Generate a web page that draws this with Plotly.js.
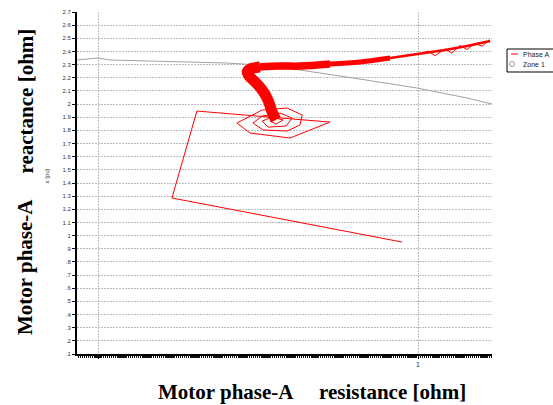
<!DOCTYPE html>
<html>
<head>
<meta charset="utf-8">
<script src="https://cdn.plot.ly/plotly-3.0.1.min.js"></script>
<style>html,body{margin:0;padding:0;background:#fff;}#chart{width:553px;height:405px;}</style>
</head>
<body>
<div id="chart"></div>
<script>
// Thin part of the Phase A trajectory (start, jump, spiral)
const thinR = [0.950, 0.231, 0.309, 0.725, 0.600, 0.475, 0.434, 0.513, 0.591, 0.638, 0.631, 0.591, 0.516, 0.484, 0.513, 0.569, 0.606, 0.588, 0.531, 0.513, 0.544, 0.578, 0.556, 0.538, 0.553];
const thinX = [0.951, 1.286, 1.947, 1.863, 1.742, 1.780, 1.856, 1.955, 1.970, 1.917, 1.841, 1.795, 1.803, 1.856, 1.909, 1.932, 1.894, 1.833, 1.825, 1.871, 1.901, 1.879, 1.848, 1.871, 1.886];
// Thick band (settling towards load point), split by visual thickness
const bandAR = [0.556, 0.544, 0.531, 0.513, 0.491, 0.472, 0.466, 0.475, 0.506];
const bandAX = [1.880, 1.940, 2.031, 2.107, 2.168, 2.213, 2.244, 2.267, 2.282];
const bandBR = [0.506, 0.569, 0.631, 0.725];
const bandBX = [2.282, 2.289, 2.289, 2.305];
const bandCR = [0.725, 0.819, 0.913];
const bandCX = [2.305, 2.320, 2.350];
const bandDR = [0.913, 1.006, 1.084, 1.153, 1.225];
const bandDX = [2.350, 2.381, 2.411, 2.441, 2.480];
const bandER = [0.960, 1.006, 1.031, 1.053, 1.084, 1.106, 1.131, 1.153, 1.178, 1.200, 1.225];
const bandEX = [2.372, 2.381, 2.403, 2.368, 2.419, 2.388, 2.445, 2.415, 2.460, 2.440, 2.490];
// Zone 1 boundary
const zoneR = [-0.066, 0.000, 0.0375, 0.194, 0.403, 0.506, 0.631, 0.819, 0.997, 1.153, 1.231];
const zoneX = [2.335, 2.350, 2.335, 2.327, 2.312, 2.297, 2.259, 2.190, 2.122, 2.046, 2.000];
// Tick labels
const yTickVals = [0.1,0.2,0.3,0.4,0.5,0.6,0.7,0.8,0.9,1.0,1.1,1.2,1.3,1.4,1.5,1.6,1.7,1.8,1.9,2.0,2.1,2.2,2.3,2.4,2.5,2.6,2.7];
const yTickText = [".1",".2",".3",".4",".5",".6",".7",".8",".9","1","1.1","1.2","1.3","1.4","1.5","1.6","1.7","1.8","1.9","2","2.1","2.2","2.3","2.4","2.5","2.6","2.7"];
const xTickVals = [0, 1];
const xTickText = ["", "1"];

const red = '#ff0000';
const traces = [
  {x: zoneR, y: zoneX, mode: 'lines', line: {color: '#a0a0a0', width: 1}, showlegend: false},
  {x: thinR, y: thinX, mode: 'lines', line: {color: red, width: 1}, showlegend: false},
  {x: bandAR, y: bandAX, mode: 'lines', line: {color: red, width: 11, shape: 'spline'}, showlegend: false},
  {x: bandBR, y: bandBX, mode: 'lines', line: {color: red, width: 7.5, shape: 'spline'}, showlegend: false},
  {x: bandCR, y: bandCX, mode: 'lines', line: {color: red, width: 5, shape: 'spline'}, showlegend: false},
  {x: bandDR, y: bandDX, mode: 'lines', line: {color: red, width: 2.5}, showlegend: false},
  {x: bandER, y: bandEX, mode: 'lines', line: {color: red, width: 1}, showlegend: false}
];

const P = (px) => (px - 77) / 415;
const Q = (py) => (354 - py) / 342;
const serif = 'Liberation Serif, Times New Roman, serif';

const layout = {
  width: 553, height: 405,
  margin: {l: 77, r: 61, t: 12, b: 51, pad: 0},
  paper_bgcolor: '#ffffff', plot_bgcolor: '#ffffff',
  showlegend: false,
  font: {family: 'Liberation Sans, Arial, sans-serif', size: 6, color: '#333'},
  xaxis: {
    range: [-0.0656, 1.231], tickmode: 'array', tickvals: xTickVals, ticktext: xTickText,
    showgrid: true, gridcolor: '#bdbdbd', gridwidth: 1, griddash: '2px,1px',
    zeroline: false, showline: true, linecolor: '#000', linewidth: 1.5,
    ticks: 'outside', ticklen: 3, tickcolor: '#000', tickfont: {size: 7, color: '#333'},
    minor: {dtick: 0.006, ticks: 'outside', ticklen: 2.5, tickcolor: '#111', tickwidth: 1.3, showgrid: false},
    fixedrange: true
  },
  yaxis: {
    range: [0.1, 2.7], tickmode: 'array', tickvals: yTickVals, ticktext: yTickText,
    showgrid: true, gridcolor: '#bdbdbd', gridwidth: 1, griddash: '2px,1px',
    zeroline: false, showline: true, linecolor: '#000', linewidth: 2,
    ticks: 'outside', ticklen: 3, tickcolor: '#000', tickfont: {size: 6, color: '#333'},
    fixedrange: true
  },
  shapes: [
    {type: 'rect', xref: 'paper', yref: 'paper', x0: P(507), x1: P(562), y0: Q(72), y1: Q(49), line: {color: '#000', width: 1}, fillcolor: '#fff'},
    {type: 'line', xref: 'paper', yref: 'paper', x0: P(511), x1: P(518), y0: Q(54), y1: Q(54), line: {color: red, width: 1}},
    {type: 'circle', xref: 'paper', yref: 'paper', x0: P(509.5), x1: P(514.5), y0: Q(66.5), y1: Q(61.5), line: {color: '#999', width: 1}}
  ],
  annotations: [
    {xref: 'paper', yref: 'paper', x: P(521), y: Q(54), xanchor: 'left', yanchor: 'middle', showarrow: false, text: 'Phase A', font: {size: 7, color: '#222'}},
    {xref: 'paper', yref: 'paper', x: P(521), y: Q(64), xanchor: 'left', yanchor: 'middle', showarrow: false, text: 'Zone 1', font: {size: 7, color: '#222'}},
    {xref: 'paper', yref: 'paper', x: P(25), y: Q(267), xanchor: 'center', yanchor: 'middle', showarrow: false, textangle: -90, text: '<b>Motor phase-A</b>', font: {family: serif, size: 21, color: '#000'}},
    {xref: 'paper', yref: 'paper', x: P(25), y: Q(100.5), xanchor: 'center', yanchor: 'middle', showarrow: false, textangle: -90, text: '<b>reactance [ohm]</b>', font: {family: serif, size: 21, color: '#000'}},
    {xref: 'paper', yref: 'paper', x: P(46.5), y: Q(176), xanchor: 'center', yanchor: 'middle', showarrow: false, textangle: -90, text: 'x [pu]', font: {size: 6, color: '#333'}},
    {xref: 'paper', yref: 'paper', x: P(226), y: Q(392), xanchor: 'center', yanchor: 'middle', showarrow: false, text: '<b>Motor phase-A</b>', font: {family: serif, size: 21, color: '#000'}},
    {xref: 'paper', yref: 'paper', x: P(392), y: Q(392), xanchor: 'center', yanchor: 'middle', showarrow: false, text: '<b>resistance [ohm]</b>', font: {family: serif, size: 21, color: '#000'}}
  ]
};

Plotly.newPlot('chart', traces, layout, {displayModeBar: false, staticPlot: true});
</script>
</body>
</html>
